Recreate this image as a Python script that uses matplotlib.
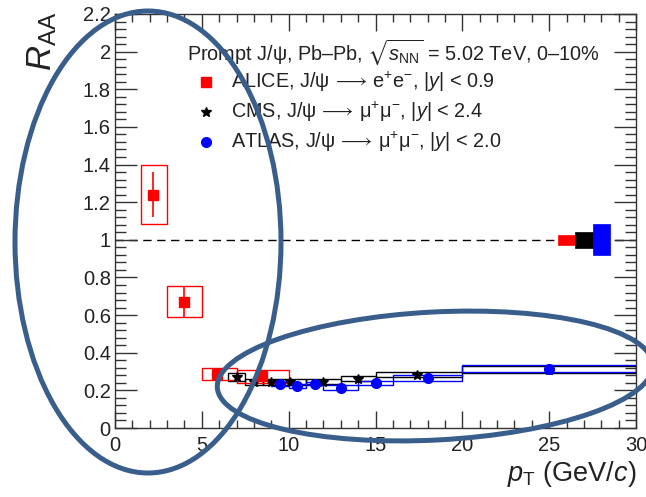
import matplotlib
matplotlib.use("Agg")
import matplotlib.pyplot as plt
import numpy as np
from matplotlib.patches import Ellipse
from matplotlib.transforms import IdentityTransform
from matplotlib.ticker import MultipleLocator, FixedLocator

plt.rcParams['font.family'] = ['Liberation Sans', 'DejaVu Sans']
plt.rcParams['mathtext.fontset'] = 'custom'
plt.rcParams['mathtext.rm'] = 'Liberation Sans'
plt.rcParams['mathtext.it'] = 'Liberation Sans:italic'
plt.rcParams['mathtext.bf'] = 'Liberation Sans:bold'
plt.rcParams['mathtext.fallback'] = 'stixsans'

# ---------------- data ----------------
alice_lo = [1.5, 3.0, 5.0, 7.0]
alice_hi = [3.0, 5.0, 7.0, 10.0]
alice_pt = [2.2, 3.95, 5.9, 8.45]
alice_raa = [1.24, 0.672, 0.288, 0.275]
alice_stat = [0.12, 0.085, 0.012, 0.025]
alice_sys = [0.155, 0.083, 0.031, 0.035]

cms_lo = [6.5, 7.5, 8.5, 9.5, 11.0, 13.0, 15.0, 20.0]
cms_hi = [7.5, 8.5, 9.5, 11.0, 13.0, 15.0, 20.0, 30.0]
cms_pt = [7.0, 8.0, 9.0, 10.1, 12.0, 14.0, 17.4, 25.0]
cms_raa = [0.272, 0.243, 0.245, 0.245, 0.245, 0.262, 0.284, 0.31]
cms_stat = [0.012, 0.01, 0.01, 0.008, 0.008, 0.008, 0.01, 0.012]
cms_sys = [0.022, 0.015, 0.015, 0.014, 0.013, 0.012, 0.012, 0.018]

atlas_lo = [9.0, 10.0, 11.0, 12.0, 14.0, 16.0, 20.0]
atlas_hi = [10.0, 11.0, 12.0, 14.0, 16.0, 20.0, 30.0]
atlas_pt = [9.5, 10.5, 11.5, 13.0, 15.0, 18.0, 25.0]
atlas_raa = [0.232, 0.222, 0.236, 0.215, 0.24, 0.265, 0.316]
atlas_stat = [0.008, 0.008, 0.008, 0.008, 0.008, 0.01, 0.018]
atlas_sys = [0.01, 0.01, 0.01, 0.012, 0.012, 0.017, 0.017]

# global (normalisation) uncertainties at unity
glob_lo = [25.5, 26.5, 27.5]
glob_hi = [26.5, 27.5, 28.5]
glob_unc = [0.026, 0.044, 0.083]
glob_colors = ['#ff0000', '#000000', '#0000ff']

x_ticks = [0, 5, 10, 15, 20, 25, 30]
y_ticks = [0, 0.2, 0.4, 0.6, 0.8, 1.0, 1.2, 1.4, 1.6, 1.8, 2.0, 2.2]
y_ticklabels = ['0', '0.2', '0.4', '0.6', '0.8', '1', '1.2', '1.4', '1.6', '1.8', '2', '2.2']

W, H = 646, 497
fig = plt.figure(figsize=(W / 100, H / 100), dpi=100)
ax = fig.add_axes([115 / W, 1 - 428 / H, (636 - 115) / W, (428 - 14) / H])
ax.set_xlim(0, 30)
ax.set_ylim(0, 2.2)

RED, BLUE, BLACK = '#ff0000', '#0000ff', '#000000'

# dashed unity line
ax.axhline(1.0, color='black', lw=1.0, ls=(0, (6, 4)), zorder=1)

def draw_boxes(lo, hi, y, sys, color, lw=1.0, z=2):
    lo = np.array(lo); hi = np.array(hi); y = np.array(y); sys = np.array(sys)
    ax.bar(lo, 2 * sys, width=hi - lo, bottom=y - sys, align='edge',
           fill=False, edgecolor=color, linewidth=lw, zorder=z)

draw_boxes(cms_lo, cms_hi, cms_raa, cms_sys, BLACK, z=2)
draw_boxes(atlas_lo, atlas_hi, atlas_raa, atlas_sys, BLUE, z=3)
draw_boxes(alice_lo, alice_hi, alice_raa, alice_sys, RED, z=4)

# global uncertainty boxes
for lo, hi, u, c in zip(glob_lo, glob_hi, glob_unc, glob_colors):
    ax.bar(lo, 2 * u, width=hi - lo, bottom=1 - u, align='edge',
           color=c, edgecolor=c, linewidth=0.5, zorder=5)

# points
ax.errorbar(cms_pt, cms_raa, yerr=cms_stat, fmt='*', color=BLACK, ms=7,
            elinewidth=1.2, capsize=0, zorder=6)
ax.errorbar(atlas_pt, atlas_raa, yerr=atlas_stat, fmt='o', color=BLUE, ms=7,
            elinewidth=1.2, capsize=0, zorder=7)
ax.errorbar(alice_pt, alice_raa, yerr=alice_stat, fmt='s', color=RED, ms=7,
            elinewidth=1.2, capsize=0, zorder=8)

# axes styling (ROOT-like)
for s in ax.spines.values():
    s.set_color('#333333')
    s.set_linewidth(1.0)
ax.xaxis.set_major_locator(FixedLocator(x_ticks))
ax.xaxis.set_minor_locator(MultipleLocator(1))
ax.yaxis.set_major_locator(FixedLocator(y_ticks))
ax.yaxis.set_minor_locator(MultipleLocator(0.04))
ax.set_xticklabels([str(v) for v in x_ticks])
ax.set_yticklabels(y_ticklabels)
ax.tick_params(axis='both', which='both', direction='in', top=True, right=True,
               color='#333333', width=1.0, labelsize=14.5, labelcolor='#222222')
ax.tick_params(axis='x', which='major', length=12, pad=6)
ax.tick_params(axis='x', which='minor', length=6)
ax.tick_params(axis='y', which='major', length=16, pad=3)
ax.tick_params(axis='y', which='minor', length=8)

# axis titles
fig.text(42 / W, 1 - 12 / H, r'$R_{\rm AA}$', rotation=90, fontsize=25,
         ha='center', va='top', color='#222222')
fig.text(636 / W, 1 - 481 / H, r'$p_{\rm T}$ (GeV/$c$)', fontsize=19.5,
         ha='right', va='baseline', color='#222222')

# legend
fig.text(187 / W, 1 - 52 / H,
         r'Prompt J/ψ, Pb–Pb, $\sqrt{s_{\rm NN}}$ = 5.02 TeV, 0–10%',
         fontsize=14.3, ha='left', va='center', color='#222222')
leg_rows = [
    ('s', RED, r'ALICE, J/ψ $\!\longrightarrow\!$ e$^{+}$e$^{-}$, |$y$| < 0.9', 82),
    ('*', BLACK, r'CMS, J/ψ $\!\longrightarrow\!$ μ$^{+}$μ$^{-}$, |$y$| < 2.4', 112),
    ('o', BLUE, r'ATLAS, J/ψ $\!\longrightarrow\!$ μ$^{+}$μ$^{-}$, |$y$| < 2.0', 142),
]
for m, c, label, ypx in leg_rows:
    fig.lines.append(matplotlib.lines.Line2D([206 / W], [1 - ypx / H], marker=m,
                     color=c, ms=7, ls='none', transform=fig.transFigure))
    fig.text(231 / W, 1 - ypx / H, label, fontsize=14.3, ha='left', va='center',
             color='#222222')

# hand-drawn annotation ellipses (pixel coordinates)
ell_col = '#3a5e8c'
e1 = Ellipse((148, H - 242), 266, 462, angle=0, fill=False, edgecolor=ell_col,
             linewidth=3.6, transform=IdentityTransform(), zorder=20)
e2 = Ellipse((435, H - 376), 436, 128, angle=3, fill=False, edgecolor=ell_col,
             linewidth=3.6, transform=IdentityTransform(), zorder=20)
fig.add_artist(e1)
fig.add_artist(e2)

fig.savefig('out.png', dpi=100)
